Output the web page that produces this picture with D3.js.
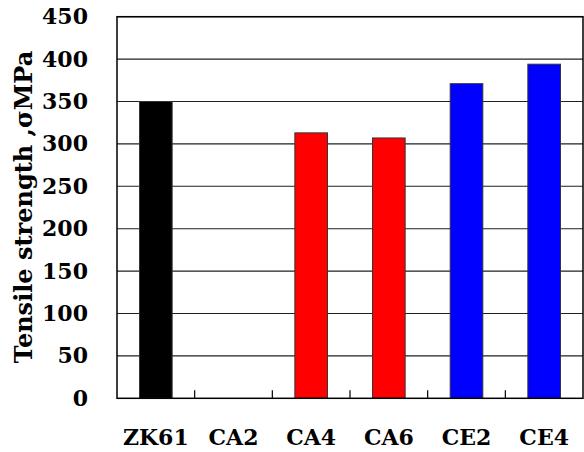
<!DOCTYPE html>
<html><head><meta charset="utf-8">
<script src="https://cdn.jsdelivr.net/npm/d3@7"></script>
<style>body{margin:0;background:#fff}svg{display:block}text{font-family:"DejaVu Serif",serif;font-weight:bold;fill:#000}</style>
</head><body><svg id="c" width="584" height="452"></svg>
<script>
const categories = ["ZK61","CA2","CA4","CA6","CE2","CE4"];
const values = [350, 0, 313, 307, 371, 394];
const colors = ["#000000","#ff0000","#ff0000","#ff0000","#0000ff","#0000ff"];
const yTicks = [0,50,100,150,200,250,300,350,400,450];
const yTitle = "Tensile strength ,σMPa";

const svg = d3.select("#c");
const L = 117, R = 583, T = 16.7, B = 398.3;
const x = d3.scaleBand().domain(categories).range([L, R]).paddingInner(0.58).paddingOuter(0.29);
const y = d3.scaleLinear().domain([0, 450]).range([B, T]);

// gridlines
svg.append("g").selectAll("line").data(yTicks.filter(d => d > 0)).join("line")
  .attr("x1", L).attr("x2", R).attr("y1", d => y(d)).attr("y2", d => y(d))
  .attr("stroke", "#222").attr("stroke-width", 1.1);

// bars
svg.append("g").selectAll("rect").data(categories.map((c,i)=>({c, v: values[i], col: colors[i]})).filter(d => d.v > 0))
  .join("rect")
  .attr("x", d => x(d.c)).attr("width", x.bandwidth())
  .attr("y", d => y(d.v)).attr("height", d => y(0) - y(d.v))
  .attr("fill", d => d.col).attr("stroke", "#333").attr("stroke-width", 1);

// frame
svg.append("rect").attr("x", L).attr("y", T).attr("width", R - L).attr("height", B - T)
  .attr("fill", "none").attr("stroke", "#000").attr("stroke-width", 1.5);

// y axis labels
const yAxis = d3.axisLeft(y).tickValues(yTicks).tickSize(0).tickPadding(29);
const gy = svg.append("g").attr("transform", `translate(${L},0)`).call(yAxis);
gy.select(".domain").remove();
gy.selectAll("text").attr("font-size", 22).attr("font-family", "DejaVu Serif").attr("font-weight", "bold").attr("fill", "#000");

// x axis: inward ticks at band boundaries
const bounds = d3.range(1, categories.length).map(i => L + i * (R - L) / categories.length);
svg.append("g").selectAll("line").data(bounds).join("line")
  .attr("x1", d => d).attr("x2", d => d).attr("y1", B).attr("y2", B - 8)
  .attr("stroke", "#000").attr("stroke-width", 1.2);

const xAxis = d3.axisBottom(x).tickSize(0).tickPadding(0);
const gx = svg.append("g").attr("transform", `translate(0,${B})`).call(xAxis);
gx.select(".domain").remove();
gx.selectAll("text").attr("font-size", 22).attr("font-family", "DejaVu Serif").attr("font-weight", "bold").attr("fill", "#000")
  .attr("dy", null).attr("y", 47);

// y title
svg.append("text").attr("transform", "translate(32,207) rotate(-90)")
  .attr("text-anchor", "middle").attr("font-size", 24).text(yTitle);
</script></body></html>
